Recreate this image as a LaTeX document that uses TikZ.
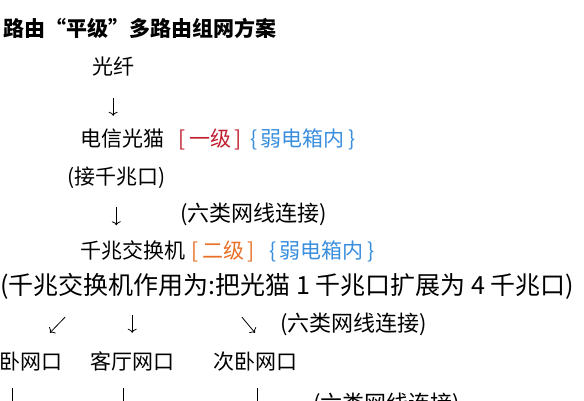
\documentclass[tikz,border=0pt]{standalone}
\usepackage{fontspec}
\usepackage{tikz}
\usetikzlibrary{arrows,arrows.meta,positioning}
\newfontfamily\cjk{Noto Sans CJK SC}
\definecolor{levelred}{RGB}{192, 32, 48}
\definecolor{levelorange}{RGB}{232, 112, 40}
\definecolor{boxblue}{RGB}{58, 142, 222}

\begin{document}
\begin{tikzpicture}[x=1pt, y=1pt,
    txt/.style={inner sep=0pt, anchor=west, text height=17pt, text depth=4pt,
                font=\cjk\fontsize{21}{25}\selectfont},
    wide/.style={txt, font=\cjk\fontsize{22}{26}\selectfont},
    flow/.style={-{To[length=4pt, width=9pt]}, line width=0.8pt}]
            \useasboundingbox (0,0) rectangle (584,-400);
            \clip (0,0) rectangle (584,-400);
            % rows of text
            \node[txt, font=\cjk\bfseries\fontsize{21}{25}\selectfont] (title) at (3,-30) {路由“平级”多路由组网方案};
            \node[txt] (fiber)  at (92,-68)  {光纤};
            \node[txt] (modem)  at (80,-140) {电信光猫};
            \node[txt, text=levelred, right=14pt of modem]  (lvlone) {[\,一级\,]};
            \node[txt, text=boxblue,  right=8pt of lvlone]  (boxone) {\{\,弱电箱内\,\}};
            \node[txt] (port)   at (67,-178) {(接千兆口)};
            \node[wide] (cableone) at (180,-215) {(六类网线连接)};
            \node[txt] (switch) at (80,-252) {千兆交换机};
            \node[txt, text=levelorange, right=6pt of switch] (lvltwo) {[\,二级\,]};
            \node[txt, text=boxblue,     right=14pt of lvltwo] (boxtwo) {\{\,弱电箱内\,\}};
            \node[txt, font=\cjk\fontsize{25}{29}\selectfont] (note) at (0,-288) {(千兆交换机作用为:把光猫 1 千兆口扩展为 4 千兆口)};
            \node[wide] (cabletwo) at (280,-325) {(六类网线连接)};
            \node[txt] (roomone)   at (-21.5,-363) {主卧网口};
            \node[txt] (roomtwo)   at (90,-363)    {客厅网口};
            \node[txt] (roomthree) at (213,-363)   {次卧网口};
            \node[wide] (cablethree) at (313,-405) {(六类网线连接)};
            % arrows
            \draw[flow, shorten <=19.5pt, shorten >=13.5pt] (fiber.south) -- (fiber.south |- modem.north);
            \draw[flow, shorten <=18pt, shorten >=16pt] (port.south) -- (port.south |- switch.north);
            \draw[flow] ([xshift=65pt, yshift=-18.5pt]note.south west) -- ([xshift=-13pt, yshift=19.5pt]roomone.north east);
            \draw[flow, shorten <=16.5pt, shorten >=19.5pt] (note.south -| roomtwo.north) -- (roomtwo.north);
            \draw[flow] ([xshift=242pt, yshift=-18.5pt]note.south west) -- ([xshift=42pt, yshift=19.5pt]roomthree.north west);
            \draw[flow] ([xshift=33.5pt, yshift=-14.5pt]roomone.south west)   -- ++(0,-30);
            \draw[flow] ([xshift=33pt, yshift=-14.5pt]roomtwo.south west)     -- ++(0,-30);
            \draw[flow] ([xshift=44pt, yshift=-14.5pt]roomthree.south west)   -- ++(0,-30);
\end{tikzpicture}
\end{document}
